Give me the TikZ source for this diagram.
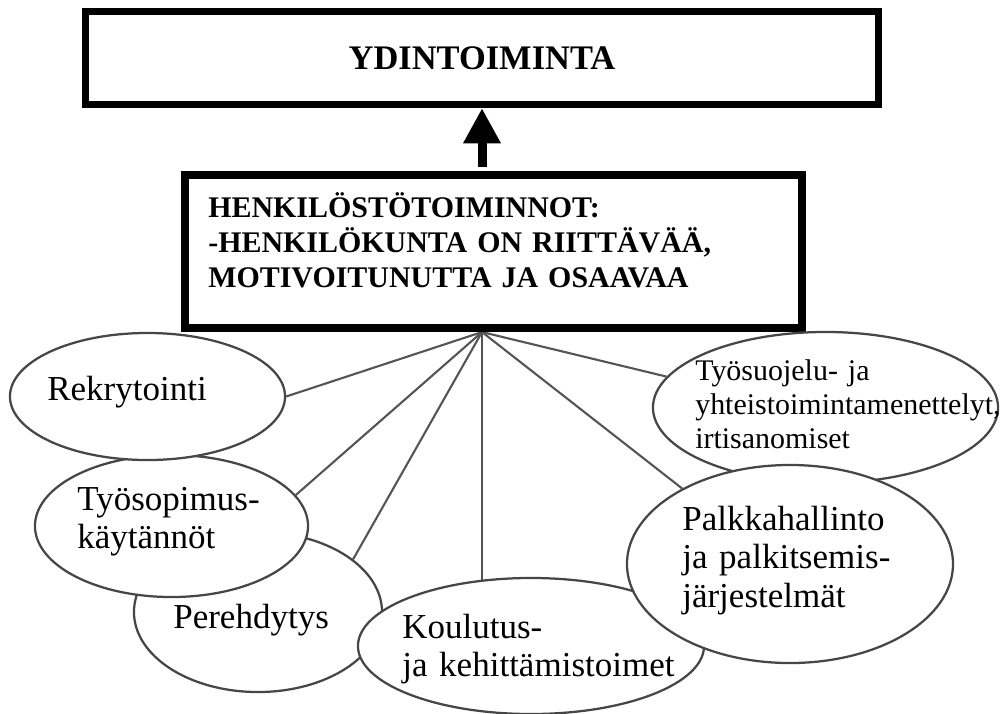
\documentclass[tikz,border=0pt]{standalone}
\usepackage{fontspec}
\setmainfont{Liberation Serif}
\usetikzlibrary{arrows.meta,calc,backgrounds,shapes.geometric}
\definecolor{rim}{RGB}{70,70,70}
\definecolor{spokec}{RGB}{85,85,85}
\tikzset{
  topbox/.style={draw, line width=5pt, fill=white, minimum width=19.8cm, minimum height=2.33cm,
                 font=\fontsize{24.5}{28}\selectfont\bfseries},
  hrbox/.style={draw, line width=4.3pt, fill=white, minimum width=15.475cm, minimum height=3.875cm},
  hrline/.style={line width=1.2pt},
  hrtext/.style={font=\fontsize{21.3}{24.9}\selectfont\bfseries, align=left, text width=14cm,
                 inner sep=0pt, anchor=base west},
  task/.style={ellipse, draw=rim, line width=1.6pt, fill=white, inner sep=0pt},
  tasktext/.style={font=\fontsize{24.9}{27.7}\selectfont, align=left, text width=9cm,
                   inner sep=0pt, anchor=base west},
  smalltext/.style={tasktext, font=\fontsize{21.3}{24.2}\selectfont},
  spoke/.style={draw=spokec, line width=1.5pt},
  lift/.style={-{Triangle[length=25pt,width=25pt]}, line width=6.4pt},
}

\begin{document}
\begin{tikzpicture}[x=0.025cm, y=-0.025cm]
  \useasboundingbox (0,0) rectangle (1001,713);

  \node[topbox] (ydin) at (482,58) {YDINTOIMINTA};

  \node[hrbox] (hr) at (493.5,251.5) {};
  \draw[hrline] ($(hr.north west)+(7,7)$) rectangle ($(hr.south east)+(-7,-7)$);
  \node[hrtext] (hrtxt) at (208,217) {HENKILÖSTÖTOIMINNOT:\\-HENKILÖKUNTA ON RIITTÄVÄÄ,\\MOTIVOITUNUTTA JA OSAAVAA};

  \coordinate (fan) at (ydin.south |- hr.south);
  \draw[lift, shorten <=3pt] (ydin.south |- hr.north) -- (ydin.south);

  % tasks, back to front
  \node[task, minimum width=6.2cm, minimum height=4.0cm] (per) at (258,612) {};
  \node[tasktext] (pertxt) at (173,628) {Perehdytys};
  \node[task, minimum width=6.825cm, minimum height=3.55cm] (tyo) at (171.5,526) {};
  \node[tasktext] (tyotxt) at (77,510) {Työsopimus-\\käytännöt};
  \node[task, minimum width=6.875cm, minimum height=3.175cm] (rek) at (147.5,396.5) {};
  \node[tasktext] (rektxt) at (47,400) {Rekrytointi};
  \node[task, minimum width=8.65cm, minimum height=3.4cm] (kou) at (531,646) {};
  \node[tasktext] (koutxt) at (402,638) {Koulutus-\\ja kehittämistoimet};
  \node[task, minimum width=8.625cm, minimum height=3.775cm] (suo) at (825.5,407.5) {};
  \node[smalltext] (suotxt) at (695,380) {Työsuojelu- ja\\yhteistoimintamenettelyt,\\irtisanomiset};
  \node[task, minimum width=8.15cm, minimum height=4.95cm] (pal) at (790,564) {};
  \node[tasktext] (paltxt) at (682,530) {Palkkahallinto\\ja palkitsemis-\\järjestelmät};

  \begin{scope}[on background layer]
    \draw[spoke] (fan) -- (rek.east);
    \draw[spoke] (fan) -- (tyo.14);
    \draw[spoke] (fan) -- (per.29);
    \draw[spoke] (fan) -- (fan |- kou.center);
    \draw[spoke] (fan) -- (pal.145);
    \draw[spoke] (fan) -- (suo.169);
  \end{scope}
\end{tikzpicture}
\end{document}
